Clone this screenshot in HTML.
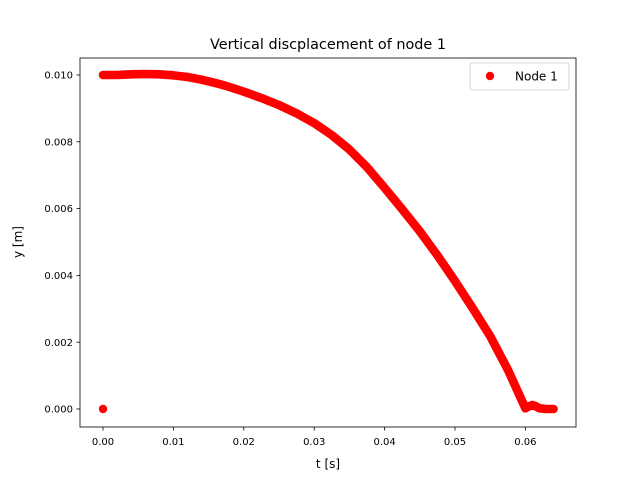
<!DOCTYPE html>
<html><head><meta charset="utf-8"><style>
body{margin:0;background:#fff}
svg text{font-family:"DejaVu Sans","Liberation Sans",sans-serif;fill:#000}
</style></head><body>
<svg id="chart" width="640" height="480" viewBox="0 0 640 480" xmlns="http://www.w3.org/2000/svg">
<rect width="640" height="480" fill="#fff"/>
<text x="328" y="49" font-size="14.4" text-anchor="middle">Vertical discplacement of node 1</text>
<g id="plot"></g>
<g id="xaxis"></g>
<g id="yaxis"></g>
<rect x="80" y="58" width="496" height="369" fill="none" stroke="#000" stroke-width="0.8"/>
<text x="328" y="468" font-size="12" text-anchor="middle">t [s]</text>
<text x="22" y="242" font-size="12" text-anchor="middle" transform="rotate(-90 22 242)">y [m]</text>
<g>
<rect x="470" y="63" width="99" height="27" rx="2" fill="#fff" stroke="#ccc" stroke-width="0.8"/>
<circle cx="490" cy="76" r="4.2" fill="red"/>
<text x="515" y="80.5" font-size="12">Node 1</text>
</g>
</svg>
<script>
const tValues=[0,0.002,0.004,0.006,0.008,0.010,0.012,0.014,0.016,0.018,0.020,0.0225,0.025,0.0275,0.030,0.0325,0.035,0.0375,0.040,0.0425,0.045,0.0475,0.050,0.0525,0.055,0.0575,0.060,0.0605,0.061,0.0615,0.062,0.063,0.064];
const yValues=[0.0100,0.0100,0.01002,0.01003,0.01002,0.00999,0.00994,0.00986,0.00976,0.00964,0.00950,0.00931,0.00910,0.00885,0.00856,0.00820,0.00777,0.00724,0.00662,0.00598,0.00532,0.00460,0.00383,0.00302,0.00218,0.00118,0.00002,0.00008,0.00012,0.00008,0.00002,0.0,0.0];
const outlierT=[0.0];
const outlierY=[0.0];
const xTicks=[0,0.01,0.02,0.03,0.04,0.05,0.06];
const xTickLabels=["0.00","0.01","0.02","0.03","0.04","0.05","0.06"];
const yTicks=[0,0.002,0.004,0.006,0.008,0.010];
const yTickLabels=["0.000","0.002","0.004","0.006","0.008","0.010"];
const NS="http://www.w3.org/2000/svg";
const xs=t=>103+t*7040;
const ys=v=>409-v*33400;
const plot=document.getElementById('plot');
const pl=document.createElementNS(NS,'polyline');
pl.setAttribute('points',tValues.map((t,i)=>xs(t)+','+ys(yValues[i])).join(' '));
pl.setAttribute('fill','none');pl.setAttribute('stroke','red');pl.setAttribute('stroke-width','8.6');
pl.setAttribute('stroke-linejoin','round');pl.setAttribute('stroke-linecap','round');


plot.appendChild(pl);
outlierT.forEach((t,i)=>{const c=document.createElementNS(NS,'circle');
c.setAttribute('cx',xs(t));c.setAttribute('cy',ys(outlierY[i]));c.setAttribute('r','4.2');c.setAttribute('fill','red');


plot.appendChild(c);});
const xa=document.getElementById('xaxis');
xTicks.forEach((t,i)=>{const x=xs(t);
const l=document.createElementNS(NS,'line');l.setAttribute('x1',x);l.setAttribute('x2',x);l.setAttribute('y1',427);l.setAttribute('y2',430.5);l.setAttribute('stroke','#000');l.setAttribute('stroke-width','0.8');


xa.appendChild(l);
const tx=document.createElementNS(NS,'text');tx.setAttribute('x',x);tx.setAttribute('y',445);tx.setAttribute('font-size','10');tx.setAttribute('text-anchor','middle');tx.textContent=xTickLabels[i];


xa.appendChild(tx);});
const ya=document.getElementById('yaxis');
yTicks.forEach((v,i)=>{const y=ys(v);
const l=document.createElementNS(NS,'line');l.setAttribute('x1',76.5);l.setAttribute('x2',80);l.setAttribute('y1',y);l.setAttribute('y2',y);l.setAttribute('stroke','#000');l.setAttribute('stroke-width','0.8');


ya.appendChild(l);
const tx=document.createElementNS(NS,'text');tx.setAttribute('x',73);tx.setAttribute('y',y+3.6);tx.setAttribute('font-size','10');tx.setAttribute('text-anchor','end');tx.textContent=yTickLabels[i];


ya.appendChild(tx);});
</script>
</body></html>
